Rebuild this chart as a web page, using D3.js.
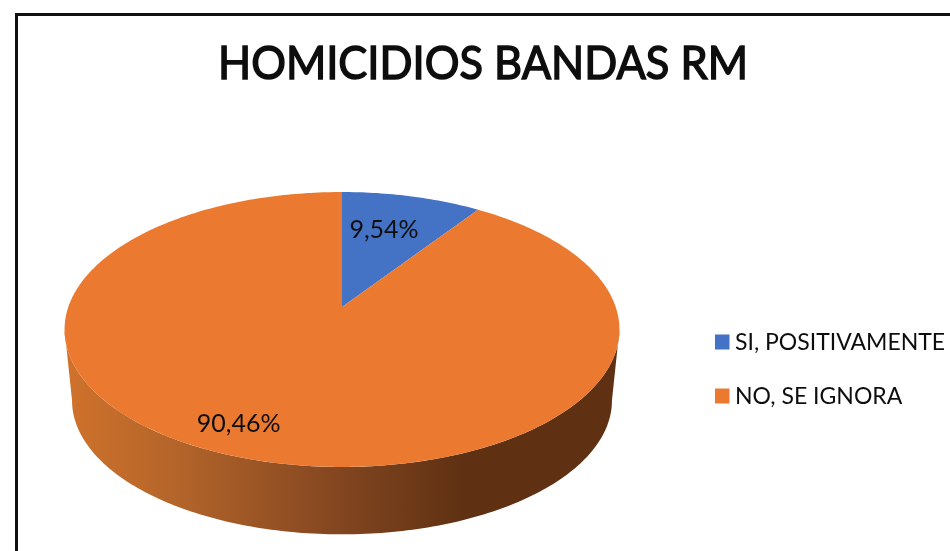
<!DOCTYPE html>
<html><head><meta charset="utf-8">
<script src="https://cdn.jsdelivr.net/npm/d3@7"></script>
<style>html,body{margin:0;padding:0;background:#fff}svg{display:block}text{font-family:Lato,"Noto Sans",sans-serif;fill:#111}</style>
</head><body><svg id="c" width="950" height="551"></svg>
<script>
const titleText = "HOMICIDIOS BANDAS RM";
const categories = ["SI, POSITIVAMENTE", "NO, SE IGNORA"];
const values = [9.54, 90.46];
const valueLabels = ["9,54%", "90,46%"];
const colors = ["#4472c4", "#eb7a30"];

const svg = d3.select("#c");
const W = 950, H = 551;
const cx = 342, apexY = 307, a = 133.8, b = 273.7, k = 0.1636;
const depthPx = 68, shrink = 0.027;

// perspective projection of a point on the disc (angle clockwise from top, radius 0..1)
function project(theta, r = 1, depth = 0) {
  const X = r * Math.sin(theta), Y = r * Math.cos(theta), w = 1 + k * Y;
  const s = 1 - shrink * depth;
  return [cx + s * b * X / w, apexY - s * a * Y / w + depth * (depthPx + shrink * 137 )];
}
const line = d3.line();
const arcPts = (t0, t1, r, d) => {
  const n = Math.max(2, Math.ceil(Math.abs(t1 - t0) * 60));
  return d3.range(n + 1).map(i => project(t0 + (t1 - t0) * i / n, r, d));
};

const defs = svg.append("defs");
const grad = defs.append("linearGradient").attr("id", "wall")
  .attr("gradientUnits", "userSpaceOnUse").attr("x1", 64).attr("x2", 619).attr("y1", 0).attr("y2", 0);
[[0, "#d0722c"], [0.2, "#b4652a"], [0.5, "#824520"], [0.72, "#5f3112"], [1, "#5f3112"]]
  .forEach(([o, c]) => grad.append("stop").attr("offset", o).attr("stop-color", c));
const blur = defs.append("filter").attr("id", "soft").attr("x", "-5%").attr("y", "-20%").attr("width", "110%").attr("height", "140%");
blur.append("feGaussianBlur").attr("stdDeviation", 0.6);

// frame (open on the right and bottom, as cropped)
svg.append("path").attr("d", `M16.5 ${H} V14.5 H${W}`).attr("fill", "none").attr("stroke", "#111").attr("stroke-width", 3);

// title
svg.append("text").attr("x", 483).attr("y", 79).attr("text-anchor", "middle")
  .attr("font-size", 47).attr("font-weight", 400).attr("stroke", "#111").attr("stroke-width", 1.5)
  .attr("textLength", 530).attr("lengthAdjust", "spacingAndGlyphs").attr("filter", "url(#soft)").text(titleText);

// pie
const pie = d3.pie().sort(null).value(d => d);
const slices = pie(values);
const t0 = Math.acos(-k), tEnd = 2 * Math.PI - t0;
const wallPts = [...arcPts(t0, tEnd, 1, 0), ...arcPts(tEnd, t0, 1, 1)];
svg.append("path").attr("d", line(wallPts) + "Z").attr("fill", "url(#wall)");
svg.selectAll("path.slice").data(slices).join("path").attr("class", "slice")
  .attr("fill", (d, i) => colors[i])
  .attr("d", d => line([project(0, 0), ...arcPts(d.startAngle, d.endAngle, 1, 0)]) + "Z");

// data labels
const labelPlace = [{ r: 0.666, da: -0.042 }, { r: 0.83, da: 0.11 }];
svg.selectAll("text.val").data(slices).join("text").attr("class", "val")
  .each(function (d, i) {
    const p = project((d.startAngle + d.endAngle) / 2 + labelPlace[i].da, labelPlace[i].r);
    d3.select(this).attr("x", p[0]).attr("y", p[1]);
  })
  .attr("text-anchor", "middle").attr("dy", "0.36em").attr("font-size", 25).attr("filter", "url(#soft)")
  .text((d, i) => valueLabels[i]);

// legend
const legendY = d3.scalePoint().domain(categories).range([342, 396]);
const g = svg.selectAll("g.leg").data(categories).join("g").attr("class", "leg")
  .attr("transform", d => `translate(715,${legendY(d)})`);
g.append("rect").attr("y", -7.5).attr("width", 14.5).attr("height", 15).attr("fill", (d, i) => colors[i]);
g.append("text").attr("x", 20).attr("dy", "0.36em").attr("font-size", 23)
  .attr("filter", "url(#soft)").text(d => d);
</script></body></html>
